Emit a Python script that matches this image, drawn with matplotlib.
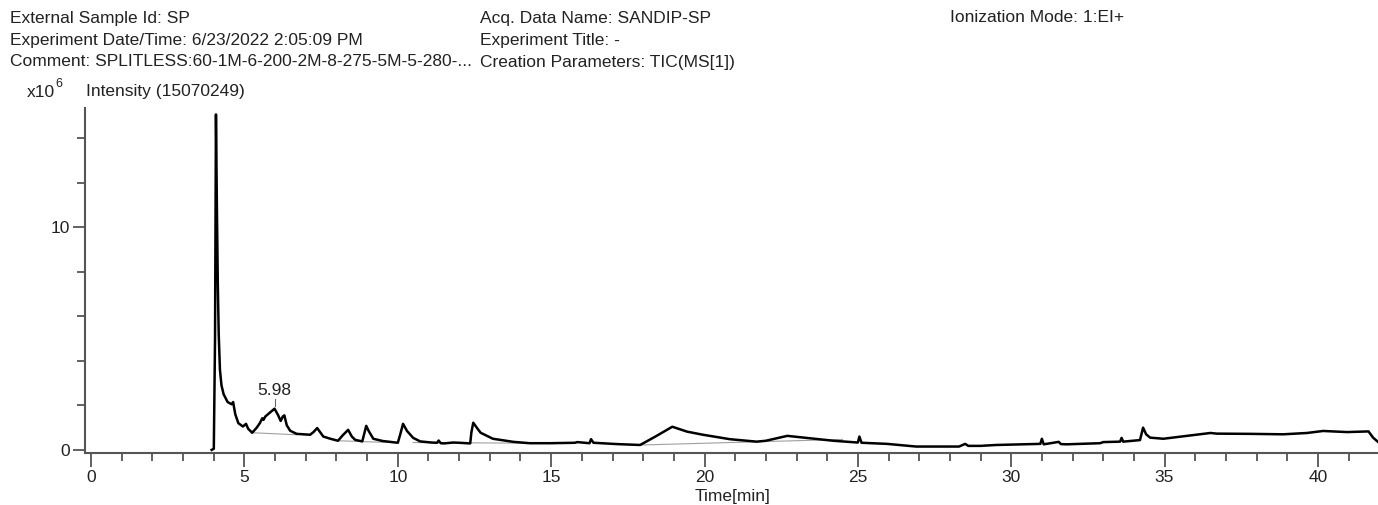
import numpy as np
import matplotlib.pyplot as plt
from matplotlib.ticker import MultipleLocator

plt.rcParams['font.family'] = ['Liberation Sans', 'DejaVu Sans']

# TIC trace, time in min and intensity in units of 1e6
time_min = [3.93, 4.00, 4.04, 4.07, 4.10, 4.13, 4.16, 4.20, 4.25, 4.32, 4.45, 4.58, 4.63,
            4.70, 4.80, 4.95, 5.05, 5.12, 5.25, 5.40, 5.50, 5.58, 5.62, 5.68, 5.85, 5.98,
            6.10, 6.18, 6.25, 6.30, 6.38, 6.49, 6.70, 7.14, 7.25, 7.37, 7.57, 7.80, 8.05,
            8.20, 8.38, 8.50, 8.61, 8.84, 8.90, 8.97, 9.05, 9.20, 9.50, 10.00, 10.08, 10.17,
            10.30, 10.50, 10.73, 11.10, 11.28, 11.33, 11.40, 11.50, 11.80, 12.00, 12.36,
            12.40, 12.46, 12.60, 12.70, 13.10, 13.77, 14.30, 14.97, 15.78, 15.85, 16.25,
            16.30, 16.38, 17.15, 17.90, 18.40, 18.95, 19.43, 19.95, 20.83, 21.70, 22.00,
            22.70, 23.45, 24.20, 25.00, 25.05, 25.12, 25.95, 26.90, 28.30, 28.50, 28.60,
            29.00, 29.50, 30.95, 31.00, 31.06, 31.55, 31.62, 31.80, 32.90, 33.00, 33.55,
            33.60, 33.65, 34.20, 34.30, 34.40, 34.53, 34.96, 36.50, 36.70, 37.80, 38.87,
            39.65, 40.17, 40.95, 41.65, 41.80, 41.95]
intensity = [0.00, 0.05, 5.00, 15.07, 11.0, 7.5, 5.2, 3.6, 2.9, 2.5, 2.15, 2.05, 2.15,
             1.6, 1.2, 1.05, 1.17, 0.95, 0.77, 1.0, 1.2, 1.42, 1.35, 1.5, 1.7, 1.85,
             1.55, 1.3, 1.5, 1.55, 1.1, 0.86, 0.72, 0.68, 0.8, 0.98, 0.6, 0.5, 0.41,
             0.65, 0.9, 0.6, 0.45, 0.38, 0.7, 1.08, 0.85, 0.5, 0.4, 0.32, 0.7, 1.17,
             0.85, 0.54, 0.38, 0.33, 0.32, 0.42, 0.3, 0.29, 0.33, 0.32, 0.29,
             0.8, 1.22, 0.95, 0.77, 0.5, 0.36, 0.3, 0.3, 0.32, 0.35, 0.3,
             0.48, 0.32, 0.26, 0.22, 0.6, 1.04, 0.82, 0.68, 0.48, 0.37, 0.41,
             0.63, 0.52, 0.41, 0.33, 0.6, 0.32, 0.27, 0.15, 0.15, 0.27, 0.18,
             0.18, 0.22, 0.27, 0.5, 0.25, 0.36, 0.26, 0.25, 0.30, 0.35, 0.37,
             0.54, 0.37, 0.44, 1.0, 0.7, 0.55, 0.5, 0.76, 0.73, 0.72, 0.7,
             0.76, 0.85, 0.8, 0.83, 0.55, 0.37]

# integration baselines (start/end)
base_t0 = [5.25, 8.05, 10.50, 17.95]
base_v0 = [0.77, 0.41, 0.33, 0.22]
base_t1 = [6.70, 10.00, 14.50, 24.50]
base_v1 = [0.68, 0.32, 0.30, 0.47]

peak_rt = 5.98
peak_val = 1.85

header = [
    ("External Sample Id: SP", "Acq. Data Name: SANDIP-SP", "Ionization Mode: 1:EI+"),
    ("Experiment Date/Time: 6/23/2022 2:05:09 PM", "Experiment Title: -", ""),
    ("Comment: SPLITLESS:60-1M-6-200-2M-8-275-5M-5-280-...", "Creation Parameters: TIC(MS[1])", ""),
]

W, H = 1378, 505
fig = plt.figure(figsize=(W / 100, H / 100), dpi=100)
ax = fig.add_axes([85 / W, 1 - 453 / H, (W - 85) / W, (453 - 108) / H])

txt = '#222222'
fs = 12.5
col_x = [10, 480, 950]
for i, row in enumerate(header):
    for j, s in enumerate(row):
        fig.text(col_x[j] / W, 1 - (18 + 22 * i) / H, s, fontsize=fs, color=txt, va='center')
fig.text(27 / W, 1 - 93 / H, "x10", fontsize=fs, color=txt, va='center')
fig.text(55 / W, 1 - 84 / H, "6", fontsize=9, color=txt, va='center')
fig.text(86 / W, 1 - 92 / H, "Intensity (15070249)", fontsize=fs, color=txt, va='center')
fig.text(733 / W, 1 - 497 / H, "Time[min]", fontsize=fs, color=txt, va='center', ha='center')

for a, b, c, d in zip(base_t0, base_v0, base_t1, base_v1):
    ax.plot([a, c], [b, d], color='#a0a0a0', lw=0.8)
ax.plot(time_min, intensity, color='black', lw=1.8)

ax.plot([peak_rt, peak_rt], [peak_val + 0.1, peak_val + 0.45], color='#666666', lw=0.8)
ax.text(peak_rt, peak_val + 0.5, "5.98", fontsize=fs, color=txt, ha='center', va='bottom')

ax.set_xlim(-0.2, 41.96)
ax.set_ylim(-0.14, 15.36)
ax.xaxis.set_major_locator(MultipleLocator(5))
ax.xaxis.set_minor_locator(MultipleLocator(1))
ax.yaxis.set_major_locator(MultipleLocator(10))
ax.yaxis.set_minor_locator(MultipleLocator(2))

for s in ['top', 'right']:
    ax.spines[s].set_visible(False)
for s in ['left', 'bottom']:
    ax.spines[s].set_color('#555555')
    ax.spines[s].set_linewidth(1.5)
ax.tick_params(which='major', length=10, width=1.3, color='#555555', labelsize=fs,
               labelcolor=txt, pad=2)
ax.tick_params(which='minor', length=6, width=1.3, color='#555555')
ax.tick_params(axis='y', which='major', length=9)
ax.tick_params(axis='y', which='minor', length=6)

fig.savefig('out.png', dpi=100)
